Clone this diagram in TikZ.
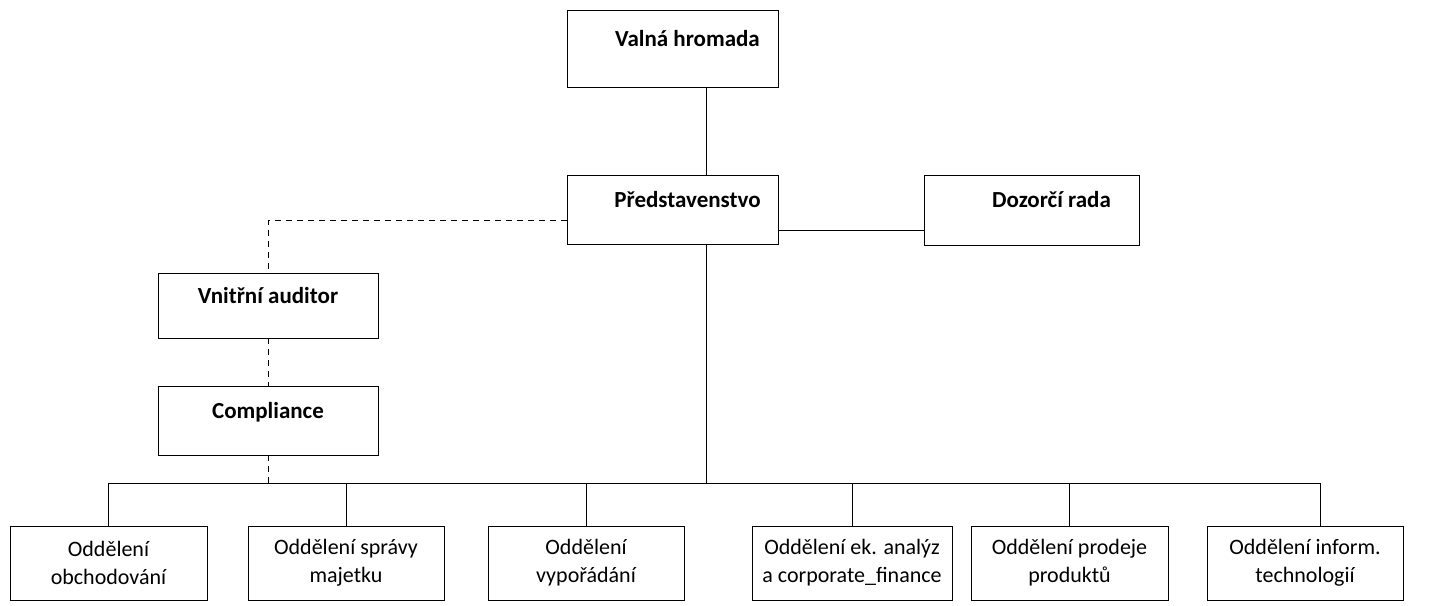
\documentclass[tikz,border=0pt]{standalone}
\usepackage{fontspec}
\setmainfont{Carlito}
\usepackage{tikz}
\usetikzlibrary{calc}
\tikzset{
  headbox/.style={draw,thick,rectangle,inner sep=0pt,font=\fontsize{23}{27}\selectfont\bfseries,text height=15pt,text depth=20pt},
  deptbox/.style={draw,thick,rectangle,inner sep=0pt,minimum height=74pt,align=center,font=\fontsize{22}{28}\selectfont},
  link/.style={thick},
  dashlink/.style={thick,dash pattern=on 6pt off 5pt}
}
\newcommand{\headunit}[6]{\node[headbox,minimum width=#4pt,minimum height=#5pt] (#1) at ( #2 , #3 ) {#6};}
\newcommand{\deptunit}[4]{\node[deptbox,minimum width=#3pt] (#1) at ( #2 , 563 ) {#4};}

\begin{document}
\begin{tikzpicture}[x=1pt,y=-1pt,line width=1.5pt]
            \useasboundingbox (0,0) rectangle (1431,605);

            % top
            \headunit{vh}{672.5}{48.5}{211}{77}{\hspace*{30pt}Valná hromada}
            \headunit{pr}{672.5}{209.5}{211}{69}{\hspace*{30pt}Představenstvo}
            \headunit{dr}{1031.5}{210}{215}{70}{\hspace*{40pt}Dozorčí rada}

            % control
            \headunit{va}{268}{305.5}{220}{65}{Vnitřní auditor}
            \headunit{co}{268}{420.5}{220}{69}{Compliance}

            % departments
            \deptunit{b1}{108.5}{197}{Oddělení\\obchodování}
            \deptunit{b2}{346}{196}{Oddělení správy\\majetku}
            \deptunit{b3}{586}{196}{Oddělení\\vypořádání}
            \deptunit{b4}{852}{200}{Oddělení ek. analýz\\a corporate\_finance}
            \deptunit{b5}{1069.5}{197}{Oddělení prodeje\\produktů}
            \deptunit{b6}{1305}{196}{Oddělení inform.\\technologií}

            % bus
            \coordinate (busL) at (b1.north |- 0,483);
            \coordinate (busR) at ([xshift=15pt]b6.north |- 0,483);
            \draw[link] (busL) -- (busR);

            % lines
            \draw[link] ([xshift=34pt]vh.south) -- ([xshift=34pt]pr.north);
            \draw[link] ([xshift=34pt]pr.south) -- ([xshift=34pt]pr.south |- busL);
            \draw[link] ([yshift=-21pt]pr.east) -- ([yshift=-21pt]pr.east -| dr.west);
            \draw[link] (b1.north) -- (busL);
            \draw[link] (b2.north) -- (b2.north |- busL);
            \draw[link] (b3.north) -- (b3.north |- busL);
            \draw[link] (b4.north) -- (b4.north |- busL);
            \draw[link] (b5.north) -- (b5.north |- busL);
            \draw[link] ([xshift=15pt]b6.north) -- (busR);

            % dashed
            \draw[dashlink] ([yshift=-11pt]pr.west) -| (va.north);
            \draw[dashlink] (va.south) -- (co.north);
            \draw[dashlink] (co.south) -- (co.south |- busL);
        \end{tikzpicture}
\end{document}
